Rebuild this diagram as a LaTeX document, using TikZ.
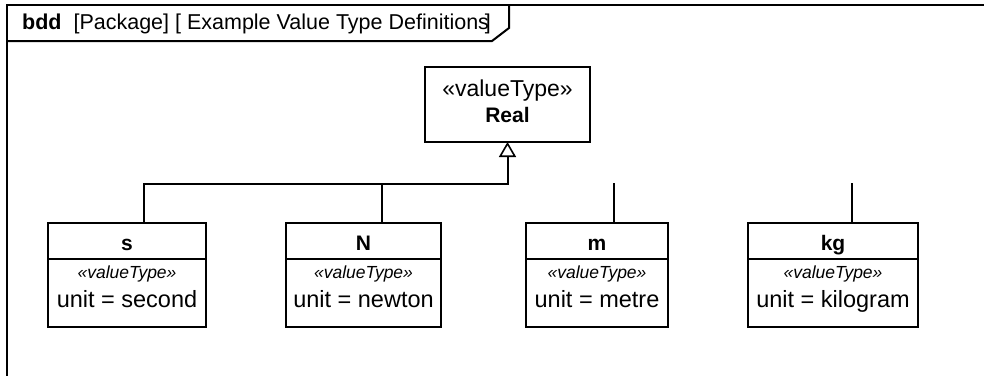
\documentclass[tikz,border=0pt]{standalone}
\usepackage{fontspec}
\setmainfont{Liberation Sans}
\usetikzlibrary{arrows.meta}
\tikzset{
  lw/.style={line width=2pt},
  umlbox/.style={draw, lw, fill=white, inner sep=0pt, outer sep=0pt, anchor=north west},
  conn/.style={draw, lw},
  gen/.style={conn, -{Triangle[open, length=15pt, width=17pt, line width=1.6pt]}},
  nametxt/.style={anchor=base, inner sep=0pt, font=\fontsize{21}{25}\selectfont\bfseries},
  stereo/.style={anchor=base, inner sep=0pt, font=\fontsize{17.5}{21}\selectfont\itshape},
  unittxt/.style={anchor=base, inner sep=0pt, font=\fontsize{23.5}{28}\selectfont},
}
\begin{document}
\begin{tikzpicture}[x=1pt,y=-1pt]
\useasboundingbox (0,0) rectangle (984,375);
% frame
\begin{scope}
\clip (0,0) rectangle (984,375);
\draw[lw] (990,5) -- (7,5) -- (7,380);
\draw[lw] (7,41) -- (492,41) -- (509,28) -- (509,5);
\end{scope}
\node[anchor=base west, inner sep=0pt, font=\fontsize{21.5}{26}\selectfont] (title) at (22,29.5)
  {\textbf{bdd}\ \ [Package] [ Example Value Type Definitions\kern-4pt]};
% Real
\node[umlbox, minimum width=165pt, minimum height=75pt] (real) at (425,67) {};
\node[anchor=base, inner sep=0pt, font=\fontsize{23}{27}\selectfont] (realst) at ([yshift=-29pt]real.north) {«valueType»};
\node[nametxt] (realnm) at ([yshift=-55pt]real.north) {Real};
% blocks
\foreach \n/\x/\w/\nm/\u in {s/48/158/s/second, N/286/155/N/newton, m/526/142/m/metre, kg/748/170/kg/kilogram}{
  \node[umlbox, minimum width=\w pt, minimum height=36pt] (\n) at (\x,223) {};
  \node[umlbox, minimum width=\w pt, minimum height=68pt] (\n b) at (\n.south west) {};
  \node[nametxt] (\n t) at ([yshift=-27pt]\n.north) {\nm};
  \node[stereo] (\n st) at ([yshift=-19pt]\n b.north) {«valueType»};
  \node[unittxt] (\n u) at ([yshift=-48pt]\n b.north) {unit = \u};
}
% generalizations
\draw[gen] ([xshift=96pt]s.north west) |- ([yshift=-42pt]real.south) -- (real.south);
\draw[conn] ([xshift=96pt]N.north west) -- ([xshift=96pt,yshift=39pt]N.north west);
\draw[conn] ([xshift=88pt]m.north west) -- ([xshift=88pt,yshift=40pt]m.north west);
\draw[conn] ([xshift=104pt]kg.north west) -- ([xshift=104pt,yshift=40pt]kg.north west);
\end{tikzpicture}
\end{document}
